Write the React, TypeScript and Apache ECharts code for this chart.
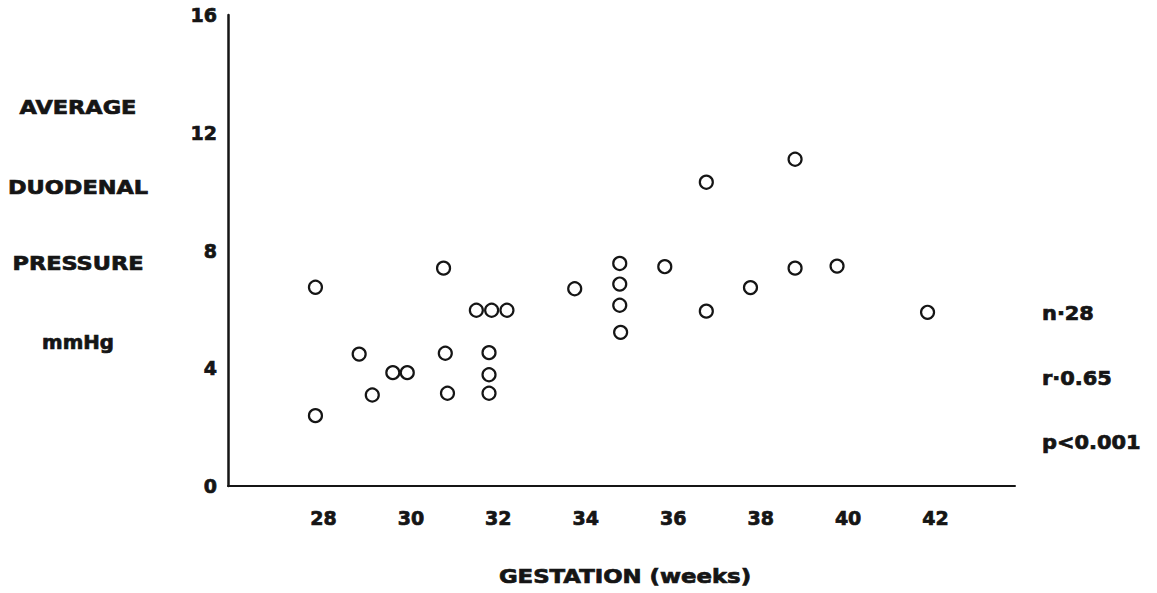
import React, { useEffect, useRef } from "react";
import * as echarts from "echarts";

// Gestational age (weeks) and average duodenal pressure (mmHg) for each infant
const gestationWeeks = [
  28.0, 28.0, 29.0, 29.3, 29.77, 30.1, 30.93, 30.97, 31.02, 31.68, 32.03, 32.38,
  31.97, 31.97, 31.97, 33.93, 34.96, 34.96, 34.96, 34.98, 35.99, 36.94, 36.94,
  37.95, 38.97, 38.97, 39.93, 42.0,
];
const duodenalPressure = [
  6.75, 2.39, 4.48, 3.09, 3.85, 3.85, 7.4, 4.51, 3.15, 5.97, 5.97, 5.97,
  4.53, 3.78, 3.15, 6.7, 7.56, 6.86, 6.14, 5.22, 7.45, 10.32, 5.94,
  6.74, 11.1, 7.4, 7.47, 5.9,
];

const xTicks = [28, 30, 32, 34, 36, 38, 40, 42];
const yTitleLines = ["AVERAGE", "DUODENAL", "PRESSURE", "mmHg"];
const statLines = ["n·28", "r·0.65", "p<0.001"];
const xTitle = "GESTATION (weeks)";

const FONT = "DejaVu Sans";
const INK = "#151515";

export default function App() {
  const ref = useRef<HTMLDivElement>(null);

  useEffect(() => {
    if (!ref.current) return;
    const chart = echarts.init(ref.current, undefined, { renderer: "svg" });

    const points = gestationWeeks.map((w, i) => [w, duodenalPressure[i]]);
    const yTitleY = [108, 188, 264, 343];
    const statY = [313, 378, 442];

    // Heavy lettering: bold face plus a thin outline in the same ink
    const heavy = {
      fontFamily: FONT,
      fontWeight: "bold",
      fontSize: 19,
      textBorderColor: INK,
      textBorderWidth: 0.7,
    };

    const textStyle = (extra: any) => ({
      fill: INK,
      stroke: INK,
      lineWidth: 0.7,
      fontFamily: FONT,
      fontWeight: "bold",
      fontSize: 19,
      ...extra,
    });

    chart.setOption({
      animation: false,
      backgroundColor: "#ffffff",
      grid: { left: 228, right: 142, top: 15, bottom: 107 },
      xAxis: {
        type: "value",
        min: 26,
        max: 44,
        interval: 2,
        axisLine: { show: true, lineStyle: { color: INK, width: 2 } },
        axisTick: { show: false },
        splitLine: { show: false },
        axisLabel: {
          margin: 22,
          color: INK,
          ...heavy,
          padding: [0, 0, 0, 16],
          formatter: (v: number) => (xTicks.includes(v) ? String(v) : ""),
        },
      },
      yAxis: {
        type: "value",
        min: 0,
        max: 16,
        interval: 4,
        axisLine: { show: true, lineStyle: { color: INK, width: 2.5 } },
        axisTick: { show: false },
        splitLine: { show: false },
        axisLabel: {
          margin: 11,
          color: INK,
          ...heavy,
        },
      },
      series: [
        {
          type: "scatter",
          data: points,
          symbol: "circle",
          symbolSize: 13,
          itemStyle: {
            color: "rgba(255,255,255,0)",
            borderColor: INK,
            borderWidth: 2.2,
            opacity: 1,
          },
          emphasis: { disabled: true },
        },
      ],
      graphic: [
        ...yTitleLines.map((t, i) => ({
          type: "text",
          x: 78,
          y: yTitleY[i],
          scaleX: t === "mmHg" ? 1.04 : 1.18,
          style: textStyle({ text: t, textAlign: "center", textVerticalAlign: "middle" }),
        })),
        ...statLines.map((t, i) => ({
          type: "text",
          x: 1042,
          y: statY[i],
          scaleX: 1.1,
          style: textStyle({ text: t, textAlign: "left", textVerticalAlign: "middle" }),
        })),
        {
          type: "text",
          x: 625,
          y: 577,
          scaleX: 1.2,
          style: textStyle({ text: xTitle, textAlign: "center", textVerticalAlign: "middle" }),
        },
      ],
    });

    return () => chart.dispose();
  }, []);

  return (
    <div
      ref={ref}
      style={{ position: "fixed", left: 0, top: 0, width: 1157, height: 593 }}
    />
  );
}
